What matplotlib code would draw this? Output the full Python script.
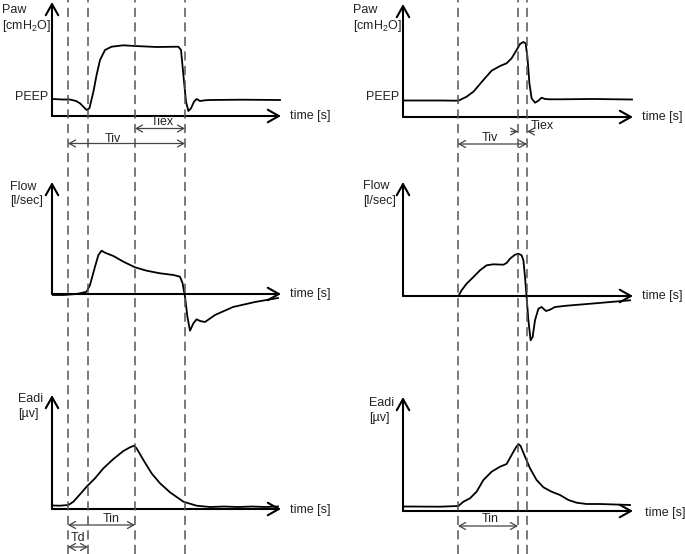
import matplotlib
matplotlib.use("Agg")
import matplotlib.pyplot as plt

plt.rcParams['font.family'] = ['Liberation Sans', 'DejaVu Sans']
plt.rcParams['mathtext.fontset'] = 'custom'
plt.rcParams['mathtext.rm'] = 'Liberation Sans'
plt.rcParams['mathtext.it'] = 'Liberation Sans'

W, H = 685, 554
TXT = '#222222'

# ---- waveform data: time [arb. s], amplitude [arb. units] ----
# left column (conventional ventilation)
paw_l_t = [0.05, 0.5, 0.9, 1.2, 1.4, 1.57, 1.73, 1.87, 2.07, 2.23, 2.4, 2.65, 2.98, 3.57, 4.15,
           5.23, 6.32, 6.45, 6.57, 6.7, 6.82, 6.95, 7.1, 7.23, 7.4, 7.65, 7.9, 9.5, 11.4]
paw_l_v = [0.17, 0.165, 0.165, 0.15, 0.127, 0.093, 0.06, 0.077, 0.243, 0.41, 0.56, 0.66, 0.693, 0.707, 0.70,
           0.69, 0.693, 0.66, 0.41, 0.143, 0.05, 0.077, 0.143, 0.17, 0.15, 0.157, 0.16, 0.163, 0.16]

flow_l_t = [0.05, 0.6, 1.2, 1.4, 1.73, 1.9, 2.15, 2.32, 2.48, 2.65, 3.07, 3.57, 4.15, 4.73, 5.4,
            6.07, 6.4, 6.53, 6.65, 6.77, 6.9, 7.07, 7.23, 7.4, 7.65, 8.15, 9.05, 10.15, 11.3]
flow_l_v = [-0.01, -0.01, 0.0, 0.007, 0.023, 0.09, 0.273, 0.39, 0.433, 0.413, 0.38, 0.323, 0.267, 0.233, 0.207,
            0.19, 0.173, 0.107, -0.027, -0.227, -0.367, -0.293, -0.253, -0.27, -0.28, -0.21, -0.13, -0.08, -0.04]

eadi_l_t = [0.05, 0.4, 0.82, 1.07, 1.4, 1.73, 2.15, 2.57, 3.07, 3.57, 3.9, 4.1, 4.23, 4.57, 4.98,
            5.4, 5.9, 6.57, 7.23, 7.9, 8.6, 9.3, 10.0, 10.7, 11.3]
eadi_l_v = [0.035, 0.033, 0.04, 0.073, 0.147, 0.223, 0.307, 0.407, 0.5, 0.58, 0.617, 0.633, 0.607, 0.49, 0.357,
            0.257, 0.167, 0.073, 0.033, 0.02, 0.025, 0.02, 0.025, 0.02, 0.025]

# right column (NAVA)
paw_r_t = [0.05, 1.85, 2.77, 3.18, 3.52, 4.02, 4.43, 4.85, 5.18, 5.43, 5.68, 5.85, 6.02, 6.13, 6.22,
           6.32, 6.43, 6.6, 6.77, 6.93, 7.1, 7.35, 7.85, 9.5, 11.45]
paw_r_v = [0.165, 0.165, 0.163, 0.203, 0.253, 0.37, 0.463, 0.51, 0.537, 0.587, 0.67, 0.73, 0.75, 0.737, 0.603,
           0.337, 0.187, 0.143, 0.163, 0.193, 0.18, 0.177, 0.177, 0.18, 0.175]

flow_r_t = [0.05, 2.77, 2.93, 3.18, 3.52, 3.85, 4.18, 4.52, 5.02, 5.18, 5.35, 5.6, 5.77, 5.93, 6.02,
            6.1, 6.18, 6.27, 6.38, 6.48, 6.6, 6.77, 6.93, 7.15, 7.35, 7.6, 8.18, 9.8, 11.35]
flow_r_v = [0.0, 0.0, 0.057, 0.123, 0.19, 0.257, 0.307, 0.317, 0.313, 0.33, 0.373, 0.413, 0.423, 0.407, 0.357,
            0.19, -0.01, -0.243, -0.443, -0.41, -0.243, -0.127, -0.11, -0.15, -0.137, -0.11, -0.097, -0.07, -0.043]

eadi_r_t = [0.05, 1.85, 2.77, 3.02, 3.35, 3.68, 4.02, 4.43, 4.85, 5.18, 5.43, 5.65, 5.77, 5.88, 6.1,
            6.35, 6.68, 7.02, 7.43, 7.85, 8.27, 8.68, 9.18, 9.85, 11.35]
eadi_r_v = [0.045, 0.043, 0.05, 0.093, 0.127, 0.193, 0.31, 0.393, 0.443, 0.47, 0.56, 0.637, 0.67, 0.65, 0.543,
            0.427, 0.31, 0.237, 0.193, 0.16, 0.11, 0.083, 0.07, 0.07, 0.06]

# event times (dashed markers)
events_l = [0.8, 1.8, 4.15, 6.65]
events_r = [2.75, 5.75, 6.2]

# panel boxes in pixels: (origin x, origin y, x-axis end, y-axis top)
panels = {
    'paw_l': (52, 116, 281, 2), 'flow_l': (52, 294, 281, 182), 'eadi_l': (52, 509, 281, 395),
    'paw_r': (403, 117, 633, 4), 'flow_r': (403, 296, 633, 182), 'eadi_r': (403, 511, 633, 397),
}
TU = 20.0   # px per time unit
AU = 100.0  # px per amplitude unit

fig = plt.figure(figsize=(W / 100, H / 100), dpi=100)


def ftxt(x, y, s, **kw):
    kw.setdefault('ha', 'left')
    kw.setdefault('va', 'center')
    fig.text(x / W, 1 - y / H, s, fontsize=9, color=TXT, **kw)


def panel(key, t, v):
    x0, y0, x1, y1 = panels[key]
    ax = fig.add_axes([x0 / W, 1 - y0 / H, (x1 - x0) / W, (y0 - y1) / H])
    ax.set_xlim(0, (x1 - x0) / TU)
    ax.set_ylim(0, (y0 - y1) / AU)
    ax.axis('off')
    ax.patch.set_alpha(0)
    ax.plot(t, v, color='black', lw=1.3, clip_on=False, solid_joinstyle='round')
    head = dict(arrowstyle='->,head_length=0.8,head_width=0.45', color='black', lw=1.5,
                shrinkA=0, shrinkB=0)
    ax.annotate('', xy=(1, 0), xytext=(0, 0), xycoords='axes fraction', arrowprops=head)
    ax.annotate('', xy=(0, 1), xytext=(0, 0), xycoords='axes fraction', arrowprops=head)
    return ax


panel('paw_l', paw_l_t, paw_l_v)
panel('flow_l', flow_l_t, flow_l_v)
panel('eadi_l', eadi_l_t, eadi_l_v)
panel('paw_r', paw_r_t, paw_r_v)
panel('flow_r', flow_r_t, flow_r_v)
panel('eadi_r', eadi_r_t, eadi_r_v)


def column(x0, x1, events):
    ax = fig.add_axes([x0 / W, 0, (x1 - x0) / W, 1])
    ax.set_xlim(0, (x1 - x0) / TU)
    ax.set_ylim(H, 0)
    ax.axis('off')
    ax.patch.set_alpha(0)
    for e in events:
        ax.axvline(e, color='#555555', lw=1.1, dashes=(6, 3.5))
    return ax


dim = dict(arrowstyle='<->,head_length=0.45,head_width=0.25', color='#444444', lw=0.9,
           shrinkA=0, shrinkB=0)
one = dict(arrowstyle='->,head_length=0.45,head_width=0.25', color='#444444', lw=0.9,
           shrinkA=0, shrinkB=0)

cl = column(52, 281, events_l)
cl.annotate('', xy=(events_l[2], 128.5), xytext=(events_l[3], 128.5), arrowprops=dim)
cl.annotate('', xy=(events_l[0], 143.5), xytext=(events_l[3], 143.5), arrowprops=dim)
cl.annotate('', xy=(events_l[0], 525), xytext=(events_l[2], 525), arrowprops=dim)
cl.annotate('', xy=(events_l[0], 547), xytext=(events_l[1], 547), arrowprops=dim)

cr = column(403, 633, events_r)
cr.annotate('', xy=(events_r[0], 144), xytext=(events_r[2], 144), arrowprops=dim)
cr.annotate('', xy=(events_r[1], 131.5), xytext=(events_r[1] - 0.35, 131.5), arrowprops=one)
cr.annotate('', xy=(events_r[2], 131.5), xytext=(events_r[2] + 0.35, 131.5), arrowprops=one)
cr.annotate('', xy=(events_r[0], 526), xytext=(events_r[1], 526), arrowprops=dim)

# ---- labels ----
ftxt(2, 10, 'Paw')
ftxt(2, 26, r'[cmH$_\mathregular{2}$O]')
ftxt(15, 97, 'PEEP')
ftxt(290, 116, 'time [s]')
ftxt(162, 122, 'Tiex', ha='center')
ftxt(113, 138.5, 'Tiv', ha='center')
ftxt(10, 187, 'Flow')
ftxt(10, 201, '[l/sec]')
ftxt(290, 294, 'time [s]')
ftxt(18, 399, 'Eadi')
ftxt(18, 414, '[µv]')
ftxt(290, 510, 'time [s]')
ftxt(111, 518.5, 'Tin', ha='center')
ftxt(78, 538, 'Td', ha='center')

ftxt(353, 10, 'Paw')
ftxt(353, 26, r'[cmH$_\mathregular{2}$O]')
ftxt(366, 97, 'PEEP')
ftxt(642, 117, 'time [s]')
ftxt(490, 138, 'Tiv', ha='center')
ftxt(531, 126, 'Tiex')
ftxt(363, 186, 'Flow')
ftxt(363, 201, '[l/sec]')
ftxt(642, 296, 'time [s]')
ftxt(369, 403, 'Eadi')
ftxt(369, 418, '[µv]')
ftxt(645, 513, 'time [s]')
ftxt(490, 519, 'Tin', ha='center')

fig.savefig('out.png', dpi=100)
